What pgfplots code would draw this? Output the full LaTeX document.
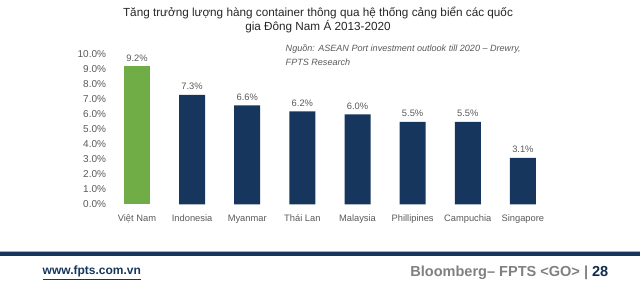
\documentclass[border=0pt]{standalone}
\usepackage{fontspec}
\setmainfont{Liberation Sans}
\usepackage{pgfplots}
\pgfplotsset{compat=1.18}
\definecolor{navy}{RGB}{23,54,93}
\definecolor{vgreen}{RGB}{112,173,71}
\definecolor{tgray}{RGB}{89,89,89}
\definecolor{ftgray}{RGB}{128,128,128}
\definecolor{titlec}{RGB}{38,38,38}
\begin{document}
\begin{tikzpicture}[x=0.75pt,y=0.75pt]
\path[use as bounding box] (0,0) rectangle (640,298);
\begin{axis}[
  at={(82.05pt,70.3pt)}, anchor=south west,
  scale only axis, width=330.8pt, height=112.5pt,
  xmin=-0.5, xmax=7.5, ymin=0, ymax=10,
  axis line style={draw=none},
  major tick style={draw=none},
  xtick={0,1,2,3,4,5,6,7},
  xticklabels={Việt Nam,Indonesia,Myanmar,Thái Lan,Malaysia,Phillipines,Campuchia,Singapore},
  ytick={0,1,...,10},
  yticklabel={\pgfmathprintnumber[fixed,fixed zerofill,precision=1]{\tick}\%},
  /pgf/number format/assume math mode=true,
  tick label style={font=\fontsize{7}{8}\selectfont, text=tgray},
  yticklabel style={font=\fontsize{7.5}{8}\selectfont, xshift=1pt},
  ybar, bar width=19.5pt, bar shift=0pt,
  nodes near coords={\pgfmathprintnumber[fixed,fixed zerofill,precision=1]{\pgfplotspointmeta}\%},
  nodes near coords style={font=\fontsize{7}{8}\selectfont, text=tgray, /pgf/number format/assume math mode=true},
  clip=false,
]
\addplot[fill=vgreen, draw=none] coordinates {(0,9.2)};
\addplot[fill=navy, draw=none] coordinates {(1,7.3) (2,6.6) (3,6.2) (4,6.0) (5,5.5) (6,5.5) (7,3.1)};
\end{axis}
\node[align=center, text=titlec, font=\fontsize{8.8}{10.5}\selectfont] at (318,278) {Tăng trưởng lượng hàng container thông qua hệ thống cảng biển các quốc\\gia Đông Nam Á 2013-2020};
\node[align=left, anchor=west, text=tgray, font=\fontsize{6.8}{10.5}\itshape\selectfont] at (281,243) {Nguồn: ASEAN Port investment outlook till 2020 – Drewry,\\FPTS Research};
\fill[navy] (0,42) rectangle (640,46);
\draw[navy!40, line width=0.8] (0,46.5) -- (640,46.5);
\node[anchor=west, text=navy, font=\fontsize{9}{10}\bfseries\selectfont] at (38,25) {\underline{www.fpts.com.vn}};
\node[anchor=east, text=ftgray, font=\fontsize{10.9}{12}\bfseries\selectfont] at (613,25) {Bloomberg– FPTS <GO> | \textcolor{navy!80!black}{28}};
\end{tikzpicture}
\end{document}
